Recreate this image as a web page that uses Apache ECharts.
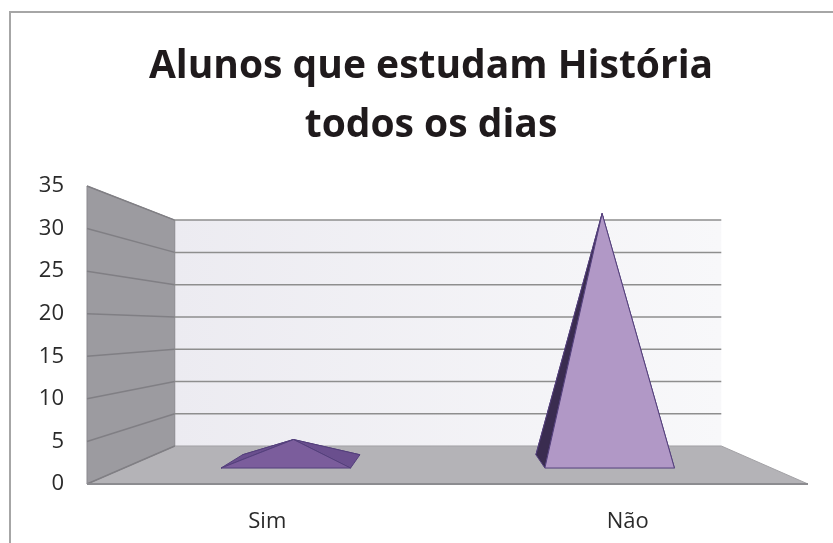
<!DOCTYPE html>
<html>
<head>
<meta charset="utf-8">
<script src="https://cdn.jsdelivr.net/npm/echarts@6/dist/echarts.min.js"></script>
<style>
  html, body { margin: 0; padding: 0; background: #fff; }
  #main { width: 833px; height: 543px; }
</style>
</head>
<body>
<div id="main"></div>
<script>
// dados
var categories = ['Sim', 'Não'];
var values = [3, 34];
var yTicks = [0, 5, 10, 15, 20, 25, 30, 35];

var myChart = echarts.init(document.getElementById('main'));

// projeção "3D" simples: t = 0 plano da frente, t = 1 parede do fundo
function proj(cs, x, y, t) {
    var cx = cs.x + cs.width * 0.503;
    var cy = cs.y + cs.height * 0.473;
    var s = 1 - 0.242 * t;
    return [cx + s * (x - cx), cy + s * (y - cy)];
}

function mix(a, b, k) {
    return 'rgb(' + a.map(function (v, i) { return Math.round(v + (b[i] - v) * k); }).join(',') + ')';
}

// paredes, chão e linhas de grade
function renderScene(params, api) {
    var cs = params.coordSys;
    var x0 = cs.x, x1 = cs.x + cs.width;
    var yTop = cs.y, yBot = cs.y + cs.height;
    var children = [];

    children.push({
        type: 'polygon',
        shape: { points: [proj(cs, x0, yTop, 1), proj(cs, x1, yTop, 1), proj(cs, x1, yBot, 1), proj(cs, x0, yBot, 1)] },
        style: {
            fill: new echarts.graphic.LinearGradient(0, 0, 1, 0, [
                { offset: 0, color: '#ecebf1' },
                { offset: 1, color: '#f8f8fa' }
            ])
        }
    });
    // chão
    children.push({
        type: 'polygon',
        shape: { points: [proj(cs, x0, yBot, 0), proj(cs, x1, yBot, 0), proj(cs, x1, yBot, 1), proj(cs, x0, yBot, 1)] },
        style: { fill: '#b4b3b7', stroke: '#a3a2a6', lineWidth: 1 }
    });
    // parede lateral
    children.push({
        type: 'polygon',
        shape: { points: [proj(cs, x0, yTop, 0), proj(cs, x0, yTop, 1), proj(cs, x0, yBot, 1), proj(cs, x0, yBot, 0)] },
        style: { fill: '#9c9ba0', stroke: '#8a898e', lineWidth: 1 }
    });

    yTicks.forEach(function (v) {
        var y = api.coord([0, v])[1];
        var a = proj(cs, x0, y, 0), b = proj(cs, x0, y, 1), c = proj(cs, x1, y, 1);
        children.push({
            type: 'line',
            shape: { x1: a[0], y1: a[1], x2: b[0], y2: b[1] },
            style: { stroke: '#807f84', lineWidth: 1.5 }
        });
        if (v > 0) {
            children.push({
                type: 'line',
                shape: { x1: b[0], y1: b[1], x2: c[0], y2: c[1] },
                style: { stroke: '#8e8e8e', lineWidth: 1.5 }
            });
        }
    });

    // borda da frente do chão
    var f0 = proj(cs, x0, yBot, 0), f1 = proj(cs, x1, yBot, 0);
    children.push({
        type: 'line',
        shape: { x1: f0[0], y1: f0[1], x2: f1[0], y2: f1[1] },
        style: { stroke: '#8c8c90', lineWidth: 2 }
    });

    return { type: 'group', children: children };
}

// pirâmides
function renderPyramid(params, api) {
    var cs = params.coordSys;
    var base = api.coord([api.value(0), 0]);
    var top = api.coord([api.value(0), api.value(1)]);
    var hw = api.size([1, 0])[0] * 0.2;
    var t0 = 0.42, t1 = 0.77, tm = (t0 + t1) / 2;
    var FL = proj(cs, base[0] - hw, base[1], t0);
    var FR = proj(cs, base[0] + hw, base[1], t0);
    var BL = proj(cs, base[0] - hw, base[1], t1);
    var BR = proj(cs, base[0] + hw, base[1], t1);
    var A = proj(cs, base[0], top[1], tm);

    var h = base[1] - top[1];
    var k = h / Math.sqrt(h * h + hw * hw);
    var front = mix([95, 62, 134], [180, 155, 200], k);
    var side = mix([131, 97, 175], [56, 42, 77], k);
    var line = { stroke: '#54407c', lineWidth: 1, lineJoin: 'round' };

    function face(pts, fill) {
        return { type: 'polygon', shape: { points: pts }, style: Object.assign({ fill: fill }, line) };
    }

    return {
        type: 'group',
        children: [
            face([BL, BR, A], side),
            face([BL, FL, A], side),
            face([FR, BR, A], side),
            face([FL, FR, A], front)
        ]
    };
}

option = {
    backgroundColor: '#ffffff',
    title: {
        text: 'Alunos que estudam História\ntodos os dias',
        left: 431,
        textAlign: 'center',
        top: 37,
        padding: 0,
        textStyle: {
            fontFamily: 'Open Sans',
            fontWeight: 'bold',
            fontSize: 39,
            lineHeight: 59,
            color: '#1f1a1c'
        }
    },
    graphic: [{
        type: 'rect',
        shape: { x: 10, y: 12, width: 860, height: 580 },
        style: { fill: 'none', stroke: '#a6a6a6', lineWidth: 2 },
        silent: true
    }],
    grid: {
        left: 87,
        right: 25,
        top: 186,
        bottom: 59,
        containLabel: false
    },
    xAxis: {
        type: 'category',
        data: categories,
        axisLine: { show: false },
        axisTick: { show: false },
        axisLabel: {
            margin: 27,
            fontFamily: 'Open Sans',
            fontSize: 22,
            color: '#2a2a2a'
        }
    },
    yAxis: {
        type: 'value',
        min: 0,
        max: 35,
        interval: 5,
        axisLine: { show: false },
        axisTick: { show: false },
        splitLine: { show: false },
        axisLabel: {
            margin: 23,
            fontFamily: 'Open Sans',
            fontSize: 22,
            color: '#2a2a2a'
        }
    },
    series: [
        {
            type: 'custom',
            silent: true,
            renderItem: renderScene,
            data: [[0, 0]],
            z: 1
        },
        {
            name: 'Alunos',
            type: 'custom',
            renderItem: renderPyramid,
            data: values.map(function (v, i) { return [i, v]; }),
            z: 2
        }
    ]
};

myChart.setOption(option);
</script>
</body>
</html>
